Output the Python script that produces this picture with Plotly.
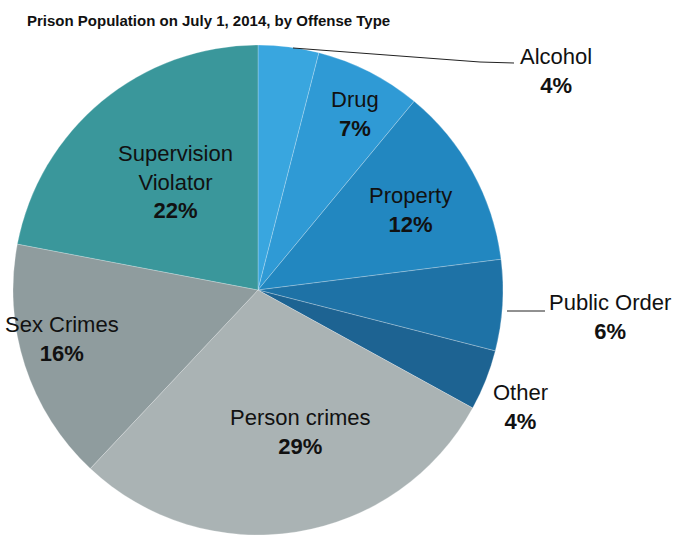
import plotly.graph_objects as go

# Offense categories, clockwise from 12 o'clock
offenses = ["Alcohol", "Drug", "Property", "Public Order", "Other",
            "Person crimes", "Sex Crimes", "Supervision Violator"]
shares = [4, 7, 12, 6, 4, 29, 16, 22]
slice_colors = ["#39a6df", "#2f9ad5", "#2287c0", "#1e72a6", "#1d6392",
                "#aab3b4", "#8f9c9e", "#3a979b"]

# Label text shown on the chart (line breaks for long names)
label_text = ["Alcohol", "Drug", "Property", "Public Order", "Other",
              "Person crimes", "Sex Crimes", "Supervision<br>Violator"]
# Label anchor positions in pixels (x, y from top)
label_pos = [(556, 71), (355, 114), (410, 210), (610, 317), (520, 407),
             (300, 432), (62, 339), (175, 182)]

W, H = 686, 535

fig = go.Figure(go.Pie(
    labels=offenses,
    values=shares,
    sort=False,
    direction="clockwise",
    rotation=0,
    textinfo="none",
    hoverinfo="label+percent",
    marker=dict(colors=slice_colors,
                line=dict(color="rgba(255,255,255,0.35)", width=0.7)),
    domain=dict(x=[13 / W, 503 / W], y=[0, 490 / H]),
    showlegend=False,
))

annotations = []
for name, txt, val, (px, py) in zip(offenses, label_text, shares, label_pos):
    annotations.append(dict(
        x=px / W, y=1 - py / H, xref="paper", yref="paper",
        text=f"{txt}<br><b>{val}%</b>",
        showarrow=False, xanchor="center", yanchor="middle",
        font=dict(family="Liberation Sans, Arial, sans-serif", size=22, color="#111111"),
    ))

# Leader lines for the labels placed outside the pie
def px_line(x0, y0, x1, y1):
    return dict(type="line", xref="paper", yref="paper",
                x0=x0 / W, y0=1 - y0 / H, x1=x1 / W, y1=1 - y1 / H,
                line=dict(color="#222222", width=1))

shapes = [
    px_line(293, 48, 480, 62),
    px_line(480, 62, 514, 63),
    px_line(507, 311, 545, 311),
]

fig.update_layout(
    width=W, height=H,
    margin=dict(l=0, r=0, t=0, b=0),
    paper_bgcolor="white",
    plot_bgcolor="white",
    title=dict(text="<b>Prison Population on July 1, 2014, by Offense Type</b>",
               x=27 / W, xanchor="left", y=1 - 21 / H, yanchor="middle",
               font=dict(family="Liberation Sans, Arial, sans-serif",
                         size=15, color="#111111")),
    annotations=annotations,
    shapes=shapes,
)

fig.write_html("out.html")
